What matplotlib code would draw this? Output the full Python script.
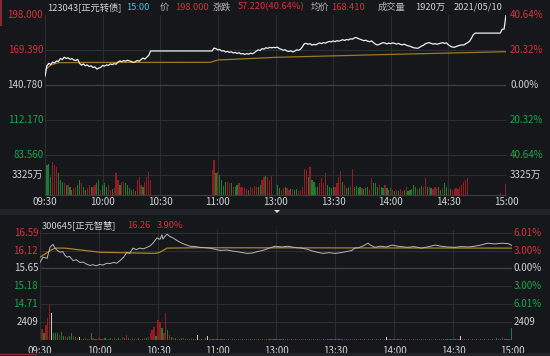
import matplotlib
matplotlib.use('Agg')
import matplotlib.pyplot as plt
from matplotlib.patches import Rectangle, Polygon

# 字体：中文用 Noto Sans CJK SC，缺字回退 DejaVu Sans
plt.rcParams['font.family'] = ['Noto Sans CJK SC', 'DejaVu Sans']

# ---------------- 数据 ----------------
time_ticks = [0, 30, 60, 90, 120, 150, 180, 210, 240]
time_labels = ['09:30', '10:00', '10:30', '11:00', '13:00', '13:30', '14:00', '14:30', '15:00']

# 123043 正元转债 分时价格 (分钟, 价格)
bond_line = [
    (0, 148), (1, 156.5), (2, 158.5), (3, 157.5), (4, 159.5), (5, 158.8), (6, 160.5), (7, 160),
    (8, 162.5), (9, 161.5), (10, 163.5), (11, 162.5), (12, 163), (13, 161.8), (14, 162.3),
    (15, 161.2), (16, 160.8), (17, 161.8), (18, 158.5), (19, 157), (20, 158), (21, 156.5),
    (22, 157.2), (23, 155.8), (24, 156.5), (25, 155), (26, 155.6), (27, 153.8), (28, 154.6),
    (29, 155.2), (30, 156.8), (31, 156.2), (32, 157.2), (33, 156.8), (34, 158), (35, 157.5),
    (36, 158.2), (37, 157.8), (38, 159.5), (39, 160.5), (40, 159.8), (41, 160.8), (42, 160.2),
    (43, 161), (44, 160.4), (45, 160), (46, 159.2), (47, 159.8), (48, 160.8), (49, 160.2),
    (50, 161.5), (51, 162.8), (52, 162), (53, 163.5), (54, 165), (55, 168.6), (87, 168.6),
    (88, 171), (89, 170.5), (90, 169.5), (91, 169.8), (92, 168.5), (93, 168.8), (94, 167.8),
    (95, 168.2), (96, 167.5), (97, 167.9), (98, 167), (99, 167.4), (100, 166.6), (101, 167.2),
    (102, 166.2), (103, 166.5), (104, 165.8), (105, 166.4), (106, 166), (107, 166.8),
    (108, 166.3), (109, 167.2), (110, 168.5), (111, 169.5), (112, 169), (113, 170.5),
    (114, 170.2), (115, 171.2), (116, 170.8), (117, 171.5), (118, 171.2), (119, 171.5),
    (120, 171.3), (121, 171.8), (122, 170.5), (123, 170), (124, 169.2), (125, 169.6),
    (126, 168.5), (127, 168.2), (128, 168.8), (129, 167.8), (130, 168.5), (131, 169.5),
    (132, 169.2), (133, 170), (134, 172), (135, 174.5), (136, 174.8), (137, 174), (138, 174.6),
    (139, 173.4), (140, 174), (141, 173.6), (142, 174.5), (143, 175.2), (144, 174.6),
    (145, 175.5), (146, 175), (147, 175.8), (148, 176.4), (149, 176), (150, 176.8),
    (151, 176.2), (152, 177), (153, 176.6), (154, 177.2), (155, 177.8), (156, 177.2),
    (157, 178), (158, 177.6), (159, 178.5), (160, 178.2), (161, 179.2), (162, 179.6),
    (163, 178.8), (164, 178.2), (165, 177.6), (166, 177), (167, 177.4), (168, 176.6),
    (169, 176.2), (170, 176.8), (171, 175.5), (172, 174.2), (173, 173.5), (174, 174),
    (175, 174.8), (176, 175.4), (177, 175), (178, 174.4), (179, 175), (180, 174.6),
    (181, 175.2), (182, 174.8), (183, 174.2), (184, 174.8), (185, 174), (186, 173.6),
    (187, 174.2), (188, 173.4), (189, 172.8), (190, 172.5), (191, 171.8), (192, 171.2),
    (193, 171), (194, 170.8), (195, 171.5), (196, 172.6), (197, 173.2), (198, 174.5),
    (199, 175), (200, 175.4), (201, 174.8), (202, 174.2), (203, 174.6), (204, 174.1),
    (205, 174.5), (206, 175), (207, 175.4), (208, 174.8), (209, 175.2), (210, 173.6),
    (211, 172.6), (212, 171.8), (213, 171.6), (214, 172.2), (215, 172.8), (216, 173.2),
    (217, 173.6), (218, 173.4), (219, 174.5), (220, 175.4), (221, 176.5), (222, 179),
    (223, 182), (224, 183.2), (237, 183.2), (238, 186.3), (239, 186.5), (240, 198),
]
bond_avg = [(0, 153), (3, 157.1), (7, 159), (20, 159.2), (86, 159.3), (90, 161.2),
            (120, 163.4), (180, 165.8), (240, 168)]

# 成交量（万），按时段
bond_vol_am1 = [6600, 4950, 5230, 3030, 5500, 4950, 4680, 3580, 2480, 2200,
                1930, 1650, 1650, 1380, 830, 1100, 1270, 1650, 2480, 1930,
                1380, 830, 1100, 1650, 1380, 1270, 1650, 1930, 2480, 830,
                1650, 1930, 1270, 1650, 830, 940, 1100, 3690, 2480, 1650,
                2200, 2200, 1930, 1650, 1100, 830, 940, 720, 2480, 2920,
                1650, 1380, 2200, 3030, 3850, 2480]
bond_dir_am1 = 'rgggrrrggg' 'rgrggrrggr' 'ggrrgrrggr' 'gggrrgrrrg' 'rrggggrgrr' 'rgrrrr'
bond_vol_am2 = [4130, 5780, 3580, 3850, 3300, 2480, 1490, 2200, 2200, 1930,
                1930, 1270, 1270, 1650, 1930, 1270, 1270, 1100, 940, 830,
                1270, 1100, 1490, 1270, 1270, 1650, 2480, 2920, 3140, 3030,
                2480, 3140]
bond_dir_am2 = 'rrgrggggrr' 'grggrrrrrg' 'rrrrggrrgr' 'rr'
bond_vol_pm = [1650, 1100, 830, 1100, 1380, 1100, 830, 940, 940, 830,
               940, 720, 830, 1380, 4400, 4130, 3030, 4680, 2480, 2200,
               1380, 1270, 1930, 2750, 1930, 3580, 1650, 1270, 1100, 1270,
               1380, 1930, 3030, 4020, 2200, 1650, 1100, 1380, 1490, 4400,
               1270, 1490, 1100, 1270, 1100, 940, 1100, 1380, 830, 2750,
               2040, 1930, 1270, 1650, 1270, 1100, 1650, 1100, 830, 1100,
               830, 720, 830, 720, 940, 720, 830, 1270, 720, 830,
               940, 1650, 1270, 940, 1100, 1490, 1380, 2750, 1270, 1270,
               1100, 940, 1380, 1100, 1270, 830, 1100, 1930, 1270, 940,
               940, 830, 940, 1100, 940, 1270, 1650, 2200, 2480, 2750]
bond_dir_pm = ('ggrrgrrgrg' 'grrrrrgrgg' 'ggrrrrgggg' 'rrrrgrggrr' 'ggggrgggrr'
               'gggrggrggr' 'rgrgrrgrgg' 'gggrggrrgr' 'grrrggrggr' 'grrrrrrrrr')
bond_vol_end = [390, 1820]
bond_min_end = [237, 240]
bond_dir_end = 'rr'

# 300645 正元智慧 分时价格
stock_line = [
    (0, 15.81), (1.5, 15.95), (3.6, 15.92), (5.1, 16.21), (6.6, 16.29), (7.6, 16.19),
    (9, 16.12), (10.2, 16.08), (11.5, 16.1), (12.7, 16.0), (13.7, 15.95), (15, 15.97),
    (16.8, 15.86), (18.5, 15.88), (20.3, 15.81), (22, 15.82), (23.5, 15.77), (25.4, 15.73),
    (27, 15.75), (28.5, 15.72), (30.5, 15.76), (32, 15.74), (34, 15.79), (35.6, 15.78),
    (37.5, 15.81), (39, 15.79), (40.7, 15.86), (42.5, 15.95), (44.2, 16.08), (45.5, 16.05),
    (47.3, 16.19), (49, 16.15), (50.8, 16.19), (52.5, 16.17), (54.4, 16.21), (56, 16.25),
    (57.4, 16.32), (59.5, 16.46), (61, 16.42), (62, 16.54), (62.5, 16.43), (63.5, 16.5),
    (64.6, 16.56), (66, 16.5), (67.6, 16.46), (70, 16.38), (72.2, 16.32), (74, 16.28),
    (76.3, 16.24), (79, 16.23), (81.3, 16.21), (84, 16.2), (86.4, 16.19), (89, 16.16),
    (91.5, 16.13), (95, 16.14), (98.1, 16.11), (101, 16.09), (103, 16.07), (105.2, 16.05),
    (108, 16.06), (110, 16.09), (113.4, 16.13), (116, 16.18), (119.5, 16.24), (123, 16.22),
    (126, 16.24), (129, 16.21), (133, 16.19), (136, 16.16), (138, 16.12), (141, 16.08),
    (144, 16.05), (147, 16.07), (150, 16.05), (153, 16.07), (156, 16.1), (158.6, 16.13),
    (160, 16.19), (162, 16.2), (164, 16.24), (166.8, 16.32), (168, 16.27), (170.3, 16.21),
    (173, 16.24), (176, 16.22), (179, 16.27), (182, 16.24), (185, 16.22), (187, 16.21),
    (190, 16.23), (194, 16.19), (197, 16.22), (201, 16.27), (204, 16.24), (207, 16.22),
    (211, 16.21), (214, 16.23), (218, 16.22), (221, 16.24), (224, 16.27), (227.8, 16.32),
    (231, 16.3), (234.9, 16.32), (238, 16.31), (240, 16.26),
]
stock_avg = [(0, 15.95), (5, 16.12), (7.6, 16.19), (12.7, 16.19), (30.5, 16.08),
             (58.5, 16.05), (61, 16.08), (64.6, 16.19), (81, 16.2), (240, 16.19)]

stock_vol = [
    2200, 1500, 900, 2000, 2900, 4800, 3570, 1000, 900, 1000, 700, 1100, 600, 500, 400, 600, 1000, 500, 400, 300,
    350, 150, 200, 250, 150, 200, 980, 300, 150, 200, 250, 150, 200, 300, 150, 200, 250, 150, 300, 200,
    250, 200, 450, 300, 670, 300, 200, 300, 150, 200, 300, 150, 200, 250, 300, 400, 890, 1340, 1780, 600,
    2680, 2450, 1560, 1000, 3570, 1340, 670, 450, 300, 250, 200, 150, 250, 300, 200, 150, 200, 250, 150, 200,
    670, 200, 150, 200, 250, 550, 150, 200, 150, 200, 150, 120, 180, 100, 150, 120, 100, 150, 120, 100,
    120, 150, 100, 130, 150, 100, 120, 180, 100, 150, 120, 100, 130, 150, 110, 100, 120, 150, 100, 130,
    150, 100, 120, 180, 130, 100, 150, 120, 100, 140, 150, 120, 100, 130, 150, 110, 200, 120, 150, 100,
    130, 150, 100, 120, 200, 150, 120, 100, 130, 150, 100, 120, 150, 130, 100, 150, 120, 100, 130, 150,
    110, 120, 150, 100, 130, 180, 150, 120, 100, 130, 150, 120, 100, 150, 130, 120, 400, 150, 100, 130,
    150, 120, 100, 130, 150, 110, 120, 150, 100, 130, 150, 120, 100, 150, 130, 120, 150, 100, 130, 150,
    120, 150, 100, 130, 150, 120, 100, 150, 130, 120, 150, 100, 130, 150, 550, 200, 150, 120, 100, 150,
    120, 150, 100, 130, 150, 120, 100, 150, 130, 120, 150, 100, 300, 150, 200, 400, 150, 120, 200, 150,
    1600,
]
stock_dir = ('rrgrrrwgggrggrgggrgr' 'wrgrrggrgrrgrgrggrrg' 'grrgrgrrgrgrgrgrrrrg'
             'rrgrrgrgrgrggrgrgrgr' 'wrgrgwgrgrgrgrgrgrgr' 'rgrgrgrgrgrgrgrgrgrg'
             'grgrgrgrgrgrrgrgrgrg' 'rgrrgrgrgrgrgrgrgrgr' 'rgrgrgrgrgrgrgrgwrgr'
             'grgrgrgrgrgrgrgrgrgr' 'rgrgrgrgrgrgrgwggrgr' 'grgrgrgrgrgrgggrgggr' 'g')

# ---------------- 样式 ----------------
BG = '#15171b'
GRID = '#2a2d32'
ZERO = '#3d4046'
RED = '#d9303a'
GREEN = '#1aa84b'
WHITE = '#d2d2d2'
GRAY = '#b4b4b4'
CYAN = '#3cc6d6'
VOL_C = {'r': '#8f1d22', 'g': '#1f7d33', 'w': '#c8c8c8'}
FS = 7
FS_TITLE = 6.7

W, H = 550, 356
fig = plt.figure(figsize=(5.5, 3.56), dpi=100, facecolor=BG)


def px_axes(x0, y0, x1, y1):
    # 以像素坐标（左上为原点）创建坐标轴
    ax = fig.add_axes([x0 / W, 1 - y1 / H, (x1 - x0) / W, (y1 - y0) / H])
    ax.set_facecolor(BG)
    ax.set_xlim(0, 240)
    for s in ax.spines.values():
        s.set_visible(False)
    ax.tick_params(length=0, labelleft=False, labelbottom=False)
    ax.set_xticks(time_ticks)
    ax.grid(True, color=GRID, linewidth=0.8)
    ax.set_axisbelow(True)
    return ax


def side_labels(ax, items, xl, xr):
    tr = ax.get_yaxis_transform()
    for y, left, right, c in items:
        if left:
            ax.text(xl, y, left, color=c, fontsize=FS, ha='right', va='center', transform=tr, clip_on=False)
        if right:
            ax.text(xr, y, right, color=c, fontsize=FS, ha='left', va='center', transform=tr, clip_on=False)


def draw_bars(ax, minutes, vols, dirs):
    ax.bar(minutes, vols, width=0.62, color=[VOL_C[d] for d in dirs], linewidth=0, align='center')


def pieces(y, items):
    for text, x, c in items:
        fig.text(x / W, 1 - y / H, text, color=c, fontsize=FS_TITLE, ha='left', va='center')


# ---------- 上半部分：正元转债 ----------
ax1 = px_axes(45, 15, 506, 155)
ax1.set_ylim(83.56, 198)
ax1.set_yticks([112.17, 140.78, 169.39])
ax1.axhline(140.78, color=ZERO, linewidth=0.9, zorder=1)
ax1.spines['left'].set_visible(True)
ax1.spines['left'].set_color(GRID)
ax1.plot([p[0] for p in bond_avg], [p[1] for p in bond_avg], color='#9c7a22', linewidth=0.9, zorder=3)
ax1.plot([p[0] for p in bond_line], [p[1] for p in bond_line], color='#f0f0f0', linewidth=0.9, zorder=4)
side_labels(ax1, [(198.0, '198.000', '40.64%', RED), (169.39, '169.390', '20.32%', RED),
                  (140.78, '140.780', '0.00%', WHITE), (112.17, '112.170', '20.32%', GREEN),
                  (83.56, '83.560', '40.64%', GREEN)], -0.004, 1.009)

ax1v = px_axes(45, 155, 506, 195)
ax1v.set_ylim(0, 6650)
ax1v.set_yticks([3325])
ax1v.spines['left'].set_visible(True)
ax1v.spines['left'].set_color(GRID)
ax1v.spines['top'].set_visible(True)
ax1v.spines['top'].set_color(GRID)
ax1v.spines['bottom'].set_visible(True)
ax1v.spines['bottom'].set_color('#3a3d42')
draw_bars(ax1v, list(range(0, len(bond_vol_am1))), bond_vol_am1, bond_dir_am1)
draw_bars(ax1v, list(range(87, 87 + len(bond_vol_am2))), bond_vol_am2, bond_dir_am2)
draw_bars(ax1v, list(range(121, 121 + len(bond_vol_pm))), bond_vol_pm, bond_dir_pm)
draw_bars(ax1v, bond_min_end, bond_vol_end, bond_dir_end)
side_labels(ax1v, [(3325, '3325万', '3325万', WHITE)], -0.004, 1.009)
ax1v.tick_params(labelbottom=True, labelcolor=WHITE, labelsize=FS, pad=1.5)
ax1v.set_xticklabels(time_labels)

pieces(7, [('123043[正元转债]', 47, WHITE), ('15:00', 126, CYAN), ('价', 160, GRAY),
           ('198.000', 175, RED), ('涨跌', 213, GRAY), ('57.220(40.64%)', 238, RED),
           ('均价', 311, GRAY), ('168.410', 331, RED), ('成交量', 378, GRAY),
           ('1920万', 415, WHITE), ('2021/05/10', 454, WHITE)])

# 左上角红色竖条
fig.patches.append(Rectangle((0, 1 - 26 / H), 1.5 / W, 26 / H, transform=fig.transFigure,
                             facecolor='#8a2a35', edgecolor='none'))

# 分隔条
fig.patches.append(Rectangle((0, 1 - 215 / H), 1, 6 / H, transform=fig.transFigure,
                             facecolor='#202328', edgecolor='none'))
fig.patches.append(Polygon([(274 / W, 1 - 210 / H), (280 / W, 1 - 210 / H), (277 / W, 1 - 213 / H)],
                           closed=True, transform=fig.transFigure, facecolor='#e0e0e0', edgecolor='none'))

# ---------- 下半部分：正元智慧 ----------
ax2 = px_axes(40, 230, 512, 304)
ax2.set_ylim(14.71, 14.71 + (16.59 - 14.71) * 74 / 71)
ax2.set_yticks([15.18, 16.12, 16.59])
ax2.axhline(15.65, color=ZERO, linewidth=0.9, zorder=1)
ax2.spines['left'].set_visible(True)
ax2.spines['left'].set_color(GRID)
ax2.plot([p[0] for p in stock_avg], [p[1] for p in stock_avg], color='#a8842a', linewidth=0.9, zorder=3)
ax2.plot([p[0] for p in stock_line], [p[1] for p in stock_line], color='#b8b8b8', linewidth=0.7, zorder=4)
side_labels(ax2, [(16.59, '16.59', '6.01%', RED), (16.12, '16.12', '3.00%', RED),
                  (15.65, '15.65', '0.00%', WHITE), (15.18, '15.18', '3.00%', GREEN),
                  (14.71, '14.71', '6.01%', GREEN)], -0.004, 1.004)

ax2v = px_axes(40, 304, 512, 340)
ax2v.set_ylim(0, 4818)
ax2v.set_yticks([2409])
ax2v.spines['left'].set_visible(True)
ax2v.spines['left'].set_color(GRID)
ax2v.spines['top'].set_visible(True)
ax2v.spines['top'].set_color(GRID)
draw_bars(ax2v, list(range(0, len(stock_vol))), stock_vol, stock_dir)
side_labels(ax2v, [(2409, '2409', '2409', WHITE)], -0.004, 1.004)
ax2v.tick_params(labelbottom=True, labelcolor=WHITE, labelsize=FS, pad=4)
ax2v.set_xticklabels(time_labels)

pieces(225, [('300645[正元智慧]', 42, WHITE), ('16.26', 127, RED), ('3.90%', 157, RED)])

# 底部状态条
fig.patches.append(Rectangle((0, 0), 1, 3 / H, transform=fig.transFigure,
                             facecolor='#202328', edgecolor='none'))
fig.patches.append(Rectangle((0, 1 / H), 37 / W, 1.2 / H, transform=fig.transFigure,
                             facecolor='#8a2a35', edgecolor='none'))

fig.savefig('out.png', dpi=100, facecolor=BG)
